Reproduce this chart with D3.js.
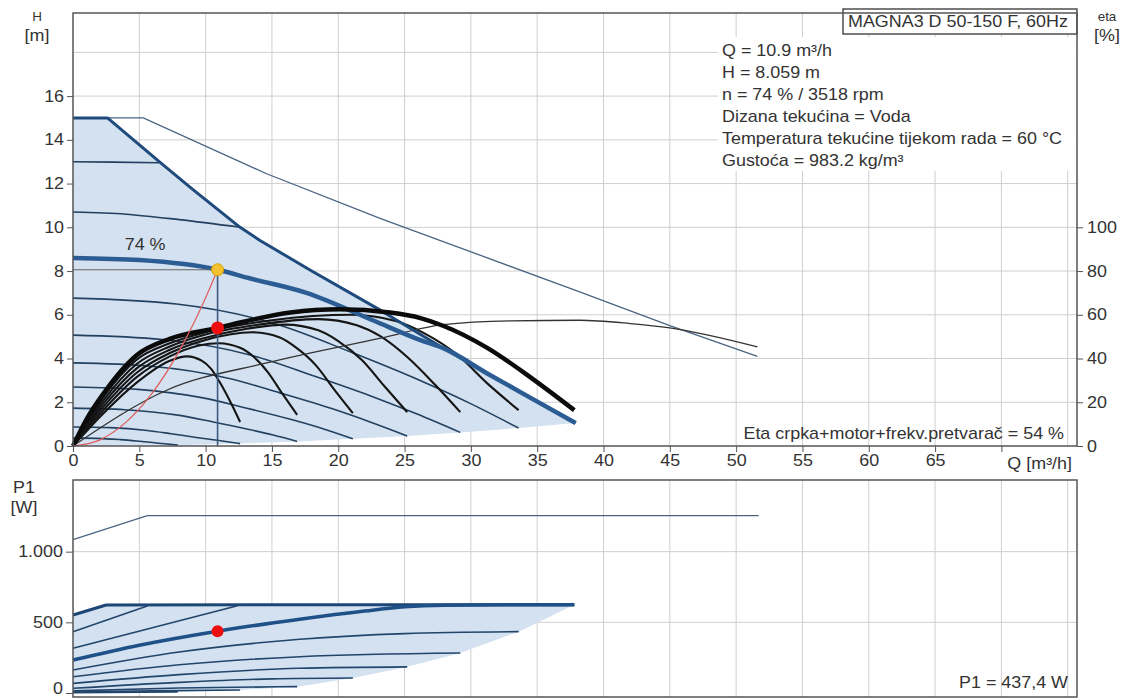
<!DOCTYPE html>
<html>
<head>
<meta charset="utf-8">
<script src="https://cdn.jsdelivr.net/npm/d3@7"></script>
<style>
  body { margin: 0; background: #fff; }
  svg { display: block; font-family: "Liberation Sans", Arial, sans-serif; }
</style>
</head>
<body>
<div id="chart"></div>
<script>
// ---------- data ----------
// axis ticks
const qTicks = [0, 5, 10, 15, 20, 25, 30, 35, 40, 45, 50, 55, 60, 65, 70];
const qGrid = [5, 10, 15, 20, 25, 30, 35, 40, 45, 50, 55, 60, 65, 70, 75];
const hTicks = [0, 2, 4, 6, 8, 10, 12, 14, 16];
const hGrid = [2, 4, 6, 8, 10, 12, 14, 16, 18];
const etaTicks = [0, 20, 40, 60, 80, 100];
const p1Ticks = [0, 500, 1000];
const p1Grid = [500, 1000];

// H curves [Q m3/h, H m]
const maxCurve = [[0,15],[2.6,15],[6.5,13.0],[9,11.75],[12.6,10.0],[14.1,9.4],[18,8.0],[23.2,6.2],[24.7,5.65],[28,4.45],[31.2,3.33],[34.5,2.2],[37.9,1.05]];
const twinMaxCurve = [[0,15],[5.3,15],[14.6,12.45],[23.2,10.4],[25.2,9.95],[38.2,7.05],[45,5.5],[51.6,4.1]];
const curve74 = [[0,8.6],[5,8.5],[10.9,8.06],[13.3,7.67],[17.6,7.0],[22.6,5.75],[26.2,4.84],[28,4.45],[31.2,3.33],[34.5,2.2],[37.9,1.05]];
const curve13 = [[0,13],[3,12.98],[6.5,12.95]];
const curve107 = [[0,10.7],[4,10.6],[8,10.35],[12.6,10.0]];
const curve68 = [[0,6.76],[7.8,6.49],[15.6,5.52],[20.8,4.33],[26,3.04],[29.9,1.96],[33.6,0.82]];
const curve51 = [[0,5.07],[6.75,4.87],[13.5,4.14],[18,3.24],[22.5,2.28],[25.9,1.47],[29.2,0.62]];
const curve38 = [[0,3.8],[5.85,3.65],[11.7,3.1],[15.6,2.43],[19.5,1.71],[22.4,1.10],[25.2,0.46]];
const curve27 = [[0,2.7],[4.9,2.59],[9.8,2.2],[13.1,1.73],[16.4,1.22],[18.9,0.78],[21.1,0.33]];
const curve17 = [[0,1.73],[3.9,1.66],[7.9,1.41],[10.5,1.11],[13.1,0.78],[15.1,0.50],[16.9,0.21]];
const curve09 = [[0,0.87],[2.8,0.84],[5.6,0.71],[7.4,0.56],[9.3,0.39],[11,0.25],[12.6,0.11]];
const curve04 = [[0,0.36],[1.8,0.35],[3.6,0.29],[4.8,0.23],[6,0.16],[6.9,0.10],[7.9,0.04]];
const endLine = [[37.9,1.05],[33.6,0.82],[29.2,0.62],[25.2,0.46],[21.1,0.33],[16.9,0.21],[12.6,0.11],[7.9,0.04],[0,0]];
const systemCurve = [[0,0],[2,0.27],[4,1.09],[6,2.44],[8,4.34],[10,6.78],[10.9,8.06]];

// eta curves [Q m3/h, eta %]
const eta74 = [[0,0],[1,12],[2.3,24],[4.8,41.5],[7.3,49],[10.9,54],[12.6,56.5],[16.4,61],[20.1,62.5],[23.9,61],[26.2,58.5],[27.9,55],[31.2,45],[34.7,30.5],[37.8,16.4]];
const etaTwin = [[0,0],[7.1,25.6],[14.6,38],[23.2,49.3],[27.9,55.5],[33,57.2],[38.2,57.5],[42,56],[45,54],[51.6,45.3]];
const eta68 = [[0,0],[2.3,22.5],[4.8,39.5],[7.3,47],[10,52],[15,57.5],[21,60],[24.4,57],[26.5,51.5],[29,41.6],[31.3,28.3],[33.6,16.4]];
const eta51 = [[0,0],[2.3,21],[4.8,37.5],[7.3,45.5],[10,51],[14,55.5],[18.5,58],[21.4,55.2],[23.2,50.1],[25.2,40.7],[27.3,28],[29.2,15.5]];
const eta38 = [[0,0],[2.3,19.5],[4.8,35.5],[7.3,44],[10,49.5],[13,53.5],[16,55.5],[18.5,52.9],[20,48],[21.8,39.2],[23.5,27.2],[25.2,15.5]];
const eta27 = [[0,0],[2.3,18],[4.8,33.5],[7.3,42.5],[10,48.5],[13.5,52],[15.6,49.6],[16.8,45.1],[18.3,37],[19.7,25.8],[21.1,15]];
const eta17 = [[0,0],[2.3,16.5],[4.8,31.5],[7.3,41],[9.5,46],[11,47],[12.6,44.9],[13.6,40.9],[14.7,33.7],[15.8,23.8],[16.9,14.2]];
const eta09 = [[0,0],[2.3,15],[4.8,29],[7.3,39],[8.6,41],[9.7,39],[10.4,35.4],[11.1,28.8],[11.9,19.8],[12.6,11]];

// P1 curves [Q m3/h, P1 W]
const p1TwinMax = [[0,1085],[5.6,1255],[51.7,1255]];
const p1Max = [[0,552],[2.5,623],[37.8,625]];
const p1Curve74 = [[0,233],[5,338],[10.9,437.4],[17.1,522],[22,580],[25,610],[28,621],[37.8,625]];
const p1Curve13 = [[0,434],[5.6,615]];
const p1Curve107 = [[0,316],[12.4,617]];
const p1Curve68 = [[0,163],[8,290],[17.1,380],[25,420],[33.6,434]];
const p1Curve51 = [[0,115],[8,200],[17.1,257],[29.2,283]];
const p1Curve38 = [[0,68],[8,130],[17,175],[25.2,185]];
const p1Curve27 = [[0,33],[8,75],[15,100],[21.1,106]];
const p1Curve17 = [[0,15],[8,35],[16.9,45]];
const p1Curve09 = [[0,7],[6,15],[12.6,21]];
const p1Curve04 = [[0,3],[7.9,8]];
const p1EndLine = [[37.8,625],[33.6,434],[29.2,283],[25.2,185],[21.1,106],[16.9,45],[12.6,21],[7.9,8],[0,0]];

// operating point
const opQ = 10.9, opH = 8.059, opEta = 54, opP1 = 437.4;
const infoLines = ["Q = 10.9 m\u00b3/h", "H = 8.059 m", "n = 74 % / 3518 rpm", "Dizana teku\u0107ina = Voda",
  "Temperatura teku\u0107ine tijekom rada = 60 \u00b0C", "Gusto\u0107a = 983.2 kg/m\u00b3"];

// ---------- layout ----------
const W = 1137, H = 698;
const plotL = 73, plotR = 1077;
const topT = 13, topB = 446;
const botT = 480, botB = 697;
const textStretch = 1.12;   // the reference text is a little wide
const textColor = '#333';

const svg = d3.select('#chart').append('svg')
    .attr('width', W)
    .attr('height', H);

// scales
const x = d3.scaleLinear().domain([0, 75.7]).range([plotL, plotR]);
const yH = d3.scaleLinear().domain([0, 19.8]).range([topB, topT]);
const yEta = d3.scaleLinear().domain([0, 100]).range([topB, yH(10)]);
const yP = d3.scaleLinear().domain([0, 1500]).range([693, 481]);

const lineH = d3.line().x(d => x(d[0])).y(d => yH(d[1])).curve(d3.curveMonotoneX);
const lineEta = d3.line().x(d => x(d[0])).y(d => yEta(d[1])).curve(d3.curveMonotoneX);
const lineP = d3.line().x(d => x(d[0])).y(d => yP(d[1])).curve(d3.curveMonotoneX);
const polyH = d3.line().x(d => x(d[0])).y(d => yH(d[1]));
const polyP = d3.line().x(d => x(d[0])).y(d => yP(d[1]));

const gridColor = '#cfcfcf';
const frameColor = '#555';

// text helper (slightly stretched like the reference)
function label(g, str, px, py, size, anchor) {
    return g.append('text')
        .text(str)
        .attr('transform', 'translate(' + px + ',' + py + ') scale(' + textStretch + ',1)')
        .attr('text-anchor', anchor || 'start')
        .attr('font-size', size)
        .attr('fill', textColor);
}

/*##########
 Top chart
##########*/
const topG = svg.append('g');

// grid
topG.selectAll('.vg').data(qGrid).join('line')
    .attr('x1', d => x(d)).attr('x2', d => x(d))
    .attr('y1', topT).attr('y2', topB)
    .attr('stroke', gridColor);
topG.selectAll('.hg').data(hGrid).join('line')
    .attr('x1', plotL).attr('x2', plotR)
    .attr('y1', d => yH(d)).attr('y2', d => yH(d))
    .attr('stroke', gridColor);

// operating range fill
topG.append('path')
    .attr('d', polyH(maxCurve.concat(endLine)) + 'Z')
    .attr('fill', '#d3e1f0');

// speed curves
const speedCurves = [curve13, curve107, curve68, curve51, curve38, curve27, curve17, curve09, curve04];
topG.selectAll('.speed').data(speedCurves).join('path')
    .attr('d', lineH)
    .attr('fill', 'none')
    .attr('stroke', '#22405f')
    .attr('stroke-width', 1.6);

// eta curves for the lower speeds
const etaCurves = [eta68, eta51, eta38, eta27, eta17, eta09];
topG.selectAll('.eta').data(etaCurves).join('path')
    .attr('d', lineEta)
    .attr('fill', 'none')
    .attr('stroke', '#151515')
    .attr('stroke-width', 2.1);

// twin pump lines
topG.append('path').attr('d', polyH(twinMaxCurve))
    .attr('fill', 'none').attr('stroke', '#4a6480').attr('stroke-width', 1.3);
topG.append('path').attr('d', lineEta(etaTwin))
    .attr('fill', 'none').attr('stroke', '#333').attr('stroke-width', 1.3);

// max curve and selected 74 % curve
topG.append('path').attr('d', polyH(maxCurve))
    .attr('fill', 'none').attr('stroke', '#1f4a7c').attr('stroke-width', 3)
    .attr('stroke-linejoin', 'round');
topG.append('path').attr('d', lineH(curve74))
    .attr('fill', 'none').attr('stroke', '#2b5c93').attr('stroke-width', 4.5);

// eta at 74 %
topG.append('path').attr('d', lineEta(eta74))
    .attr('fill', 'none').attr('stroke', '#0b0b0b').attr('stroke-width', 4.5);

// system curve
topG.append('path').attr('d', lineH(systemCurve))
    .attr('fill', 'none').attr('stroke', '#e05a5a').attr('stroke-width', 1.2);

// operating point lines
topG.append('line')
    .attr('x1', plotL).attr('x2', x(opQ))
    .attr('y1', yH(opH)).attr('y2', yH(opH))
    .attr('stroke', '#666').attr('stroke-width', 1.2);
topG.append('line')
    .attr('x1', x(opQ)).attr('x2', x(opQ))
    .attr('y1', yH(opH)).attr('y2', topB)
    .attr('stroke', '#3a5a80').attr('stroke-width', 1.6);

topG.append('circle')
    .attr('cx', x(opQ)).attr('cy', yH(opH)).attr('r', 6)
    .attr('fill', '#f2c12e').attr('stroke', '#d8a200').attr('stroke-width', 1);
topG.append('circle')
    .attr('cx', x(opQ)).attr('cy', yEta(opEta)).attr('r', 6.5)
    .attr('fill', '#ee1010');

label(topG, '74 %', x(3.9), yH(8.95), 16);

// info box
topG.append('rect')
    .attr('x', 843).attr('y', 9).attr('width', plotR - 843).attr('height', 25)
    .attr('fill', '#fff').attr('stroke', '#333').attr('stroke-width', 1.3);
label(topG, 'MAGNA3 D 50-150 F, 60Hz', 848, 27, 16);

topG.append('rect')
    .attr('x', 718).attr('y', 37).attr('width', plotR - 719).attr('height', 134)
    .attr('fill', '#fff');
infoLines.forEach((d, i) => label(topG, d, 722, 56 + i * 22, 16));

label(topG, 'Eta crpka+motor+frekv.pretvara\u010d = 54 %', 1064, 439, 16, 'end');

// frame
topG.append('rect')
    .attr('x', plotL).attr('y', topT)
    .attr('width', plotR - plotL).attr('height', topB - topT)
    .attr('fill', 'none').attr('stroke', frameColor).attr('stroke-width', 1.5);

// axes
function styleAxis(g) {
    g.select('.domain').remove();
    g.selectAll('.tick line').attr('stroke', frameColor);
    g.selectAll('.tick text')
        .attr('fill', textColor).attr('font-size', 16)
        .attr('font-family', '"Liberation Sans", Arial, sans-serif')
        .attr('transform', 'scale(' + textStretch + ',1)');
}

svg.append('g')
    .attr('transform', 'translate(' + plotL + ',0)')
    .call(d3.axisLeft(yH).tickValues(hTicks).tickSize(6).tickPadding(2))
    .call(styleAxis);

svg.append('g')
    .attr('transform', 'translate(' + plotR + ',0)')
    .call(d3.axisRight(yEta).tickValues(etaTicks).tickSize(6).tickPadding(3))
    .call(styleAxis);

svg.append('g')
    .attr('transform', 'translate(0,' + topB + ')')
    .call(d3.axisBottom(x).tickValues(qTicks).tickSize(6).tickPadding(3)
        .tickFormat(d => d === 70 ? '' : d))
    .call(styleAxis);

label(svg, 'Q [m\u00b3/h]', 1072, 469, 16, 'end');

// axis titles
label(svg, 'H', 37, 21, 12, 'middle');
label(svg, '[m]', 37, 41, 16, 'middle');
label(svg, 'eta', 1107, 21, 12, 'middle');
label(svg, '[%]', 1107, 41, 16, 'middle');

/*##########
 Bottom chart
##########*/
const botG = svg.append('g');

botG.selectAll('.vg').data(qGrid).join('line')
    .attr('x1', d => x(d)).attr('x2', d => x(d))
    .attr('y1', botT).attr('y2', botB)
    .attr('stroke', gridColor);
botG.selectAll('.hg').data(p1Grid).join('line')
    .attr('x1', plotL).attr('x2', plotR)
    .attr('y1', d => yP(d)).attr('y2', d => yP(d))
    .attr('stroke', gridColor);

botG.append('path')
    .attr('d', polyP(p1Max.concat(p1EndLine)) + 'Z')
    .attr('fill', '#d3e1f0');

const p1Curves = [p1Curve13, p1Curve107, p1Curve68, p1Curve51, p1Curve38, p1Curve27, p1Curve17, p1Curve09, p1Curve04];
botG.selectAll('.p1').data(p1Curves).join('path')
    .attr('d', lineP)
    .attr('fill', 'none')
    .attr('stroke', '#22456b')
    .attr('stroke-width', 1.6);

botG.append('path').attr('d', polyP(p1TwinMax))
    .attr('fill', 'none').attr('stroke', '#4a6480').attr('stroke-width', 1.3);
botG.append('path').attr('d', polyP(p1Max))
    .attr('fill', 'none').attr('stroke', '#1b4676').attr('stroke-width', 3)
    .attr('stroke-linejoin', 'round');
botG.append('path').attr('d', lineP(p1Curve74))
    .attr('fill', 'none').attr('stroke', '#1f5088').attr('stroke-width', 3.5);

botG.append('circle')
    .attr('cx', x(opQ)).attr('cy', yP(opP1)).attr('r', 6)
    .attr('fill', '#ee1010');

label(botG, 'P1 = 437,4 W', 1068, 688, 16, 'end');

botG.append('rect')
    .attr('x', plotL).attr('y', botT)
    .attr('width', plotR - plotL).attr('height', botB - botT)
    .attr('fill', 'none').attr('stroke', frameColor).attr('stroke-width', 1.5);

const p1Axis = svg.append('g')
    .attr('transform', 'translate(' + plotL + ',0)')
    .call(d3.axisLeft(yP).tickValues(p1Ticks).tickSize(7).tickPadding(2)
        .tickFormat(d => d === 1000 ? '1.000' : d))
    .call(styleAxis);
// keep the bottom "0" inside the picture
p1Axis.selectAll('.tick text').filter(d => d === 0).attr('dy', '0.05em');

label(svg, 'P1', 24, 493, 16, 'middle');
label(svg, '[W]', 24, 513, 16, 'middle');
</script>
</body>
</html>
